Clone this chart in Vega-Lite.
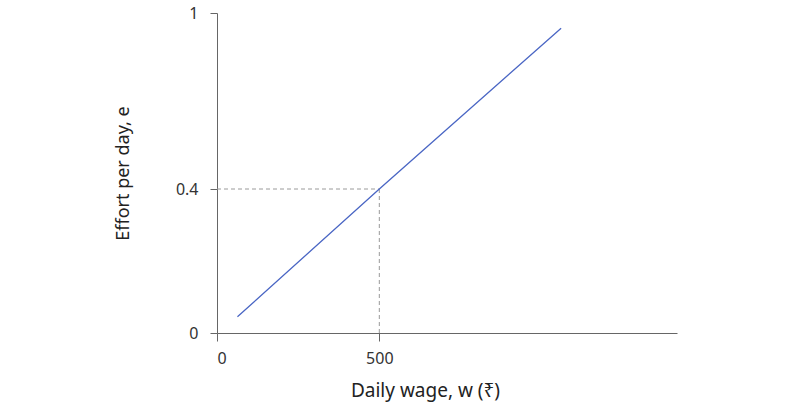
{
  "$schema": "https://vega.github.io/schema/vega-lite/v6.json",
  "width": 460,
  "height": 320,
  "autosize": {"type": "none"},
  "padding": {"left": 217, "top": 13, "right": 132, "bottom": 79},
  "datasets": {
    "curve": [
      {"w": 63, "e": 0.045},
      {"w": 500, "e": 0.4},
      {"w": 1060, "e": 0.948}
    ],
    "guides": [
      {"x1": 0, "x2": 500, "y1": 0.4, "y2": 0.4},
      {"x1": 500, "x2": 500, "y1": 0, "y2": 0.4}
    ]
  },
  "layer": [
    {
      "data": {"name": "guides"},
      "mark": {"type": "rule", "color": "#9a9a9a", "strokeDash": [4, 3], "strokeWidth": 1},
      "encoding": {
        "x": {"field": "x1", "type": "quantitative",
          "scale": {"domain": [0, 1417], "nice": false},
          "axis": {"values": [0, 500], "title": "Daily wage, w (₹)", "grid": false, "titleX": 208,
            "tickSize": 8, "labelPadding": 9, "titlePadding": 15, "labelFontSize": 16, "titleFontSize": 19}},
        "x2": {"field": "x2"},
        "y": {"field": "y1", "type": "quantitative",
          "scale": {"domain": [0, 0.4, 1], "range": [320, 176, 0]},
          "axis": {"values": [0, 0.4, 1], "format": "~g", "title": "Effort per day, e", "grid": false,
            "tickSize": 7, "labelPadding": 12, "titlePadding": 43, "labelFontSize": 16, "titleFontSize": 18}},
        "y2": {"field": "y2"}
      }
    },
    {
      "data": {"name": "curve"},
      "mark": {"type": "line", "color": "#4a66c4", "strokeWidth": 1.3},
      "encoding": {
        "x": {"field": "w", "type": "quantitative"},
        "y": {"field": "e", "type": "quantitative"}
      }
    }
  ],
  "config": {
    "view": {"stroke": null},
    "font": "Noto Sans",
    "axis": {
      "domainColor": "#666666",
      "tickColor": "#666666",
      "labelColor": "#333333",
      "titleColor": "#222222",
      "titleFontWeight": "normal",
      "labelFont": "Noto Sans",
      "titleFont": "Noto Sans"
    }
  }
}
